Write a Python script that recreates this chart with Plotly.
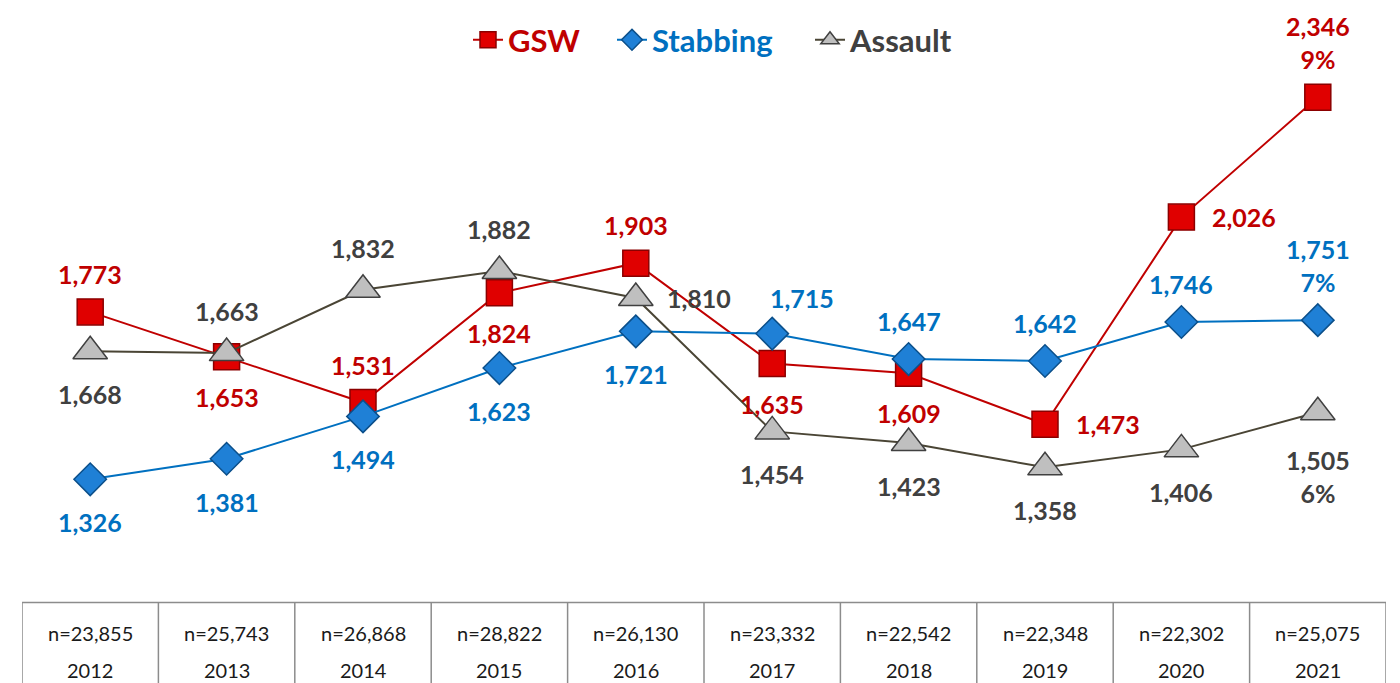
import plotly.graph_objects as go

years = [2012, 2013, 2014, 2015, 2016, 2017, 2018, 2019, 2020, 2021]
n_totals = ["n=23,855", "n=25,743", "n=26,868", "n=28,822", "n=26,130",
            "n=23,332", "n=22,542", "n=22,348", "n=22,302", "n=25,075"]
gsw = [1773, 1653, 1531, 1824, 1903, 1635, 1609, 1473, 2026, 2346]
stabbing = [1326, 1381, 1494, 1623, 1721, 1715, 1647, 1642, 1746, 1751]
assault = [1668, 1663, 1832, 1882, 1810, 1454, 1423, 1358, 1406, 1505]
share_2021 = {"GSW": "9%", "Stabbing": "7%", "Assault": "6%"}

# label placement codes: t=above, b=below, r=right, tr=above-right
gsw_pos = ["t", "b", "t", "b", "t", "b", "b", "r", "r", "t"]
stab_pos = ["b", "b", "b", "b", "b", "tr", "t", "t", "t", "t"]
assault_pos = ["b", "t", "t", "t", "r", "b", "b", "b", "b", "b"]

FONT = "Lato"
PLOT_L, PLOT_W = 22, 1364
series = [
    dict(name="GSW", y=gsw, pos=gsw_pos, line="#C00000", fill="#E00000", edge="#8B0000",
         text="#C00000", symbol="square", size=26, up=38, down=40, legend="legend", lx=468),
    dict(name="Stabbing", y=stabbing, pos=stab_pos, line="#0070C0", fill="#1F80D6", edge="#0B4F8A",
         text="#0070C0", symbol="diamond", size=25, up=38, down=43, legend="legend2", lx=612),
    dict(name="Assault", y=assault, pos=assault_pos, line="#4A4535", fill="#BFBFBF", edge="#404040",
         text="#404040", symbol="triangle-up", size=30, up=42, down=43, legend="legend3", lx=810),
]

fig = go.Figure()
annotations = []
legends = {}
for s in series:
    fig.add_trace(go.Scatter(
        x=years, y=s["y"], mode="lines+markers",
        name=f"<b><span style='color:{s['text']}'>{s['name']}</span></b>",
        line=dict(color=s["line"], width=2),
        marker=dict(symbol=s["symbol"], size=s["size"], color=s["fill"],
                    line=dict(color=s["edge"], width=1.5)),
        hoverinfo="skip",
        legend=s["legend"],
    ))
    legends[s["legend"]] = dict(
        orientation="h", x=(s["lx"] - PLOT_L) / PLOT_W, xanchor="left",
        y=1.0756, yanchor="middle", font=dict(family=FONT, size=31),
        itemwidth=30, bgcolor="rgba(0,0,0,0)")
    for i, (x, v, p) in enumerate(zip(years, s["y"], s["pos"])):
        txt = f"{v:,}"
        ann = dict(x=x, y=v, xref="x", yref="y", showarrow=False,
                   font=dict(family=FONT, size=25, color=s["text"], weight="bold"),
                   xanchor="center", yanchor="middle")
        last = i == len(years) - 1
        if last:
            txt = f"{txt}<br>{share_2021[s['name']]}"
        if p == "t":
            ann["yshift"] = s["up"] + (17 if last else 0)
        elif p == "b":
            ann["yshift"] = -(s["down"] + (21 if last else 0))
        elif p == "r":
            ann["xanchor"] = "left"
            ann["xshift"] = 29
        elif p == "tr":
            ann["xshift"] = 30
            ann["yshift"] = 36
        ann["text"] = f"<b>{txt}</b>"
        annotations.append(ann)

# bottom table
table_top = -0.079
table_bottom = -0.4
shapes = [dict(type="rect", xref="x", yref="paper", x0=years[0] - 0.5, x1=years[-1] + 0.5,
               y0=table_bottom, y1=table_top, line=dict(color="#8C8C8C", width=1.5))]
for x in years[:-1]:
    shapes.append(dict(type="line", xref="x", yref="paper", x0=x + 0.5, x1=x + 0.5,
                       y0=table_bottom, y1=table_top, line=dict(color="#8C8C8C", width=1.5)))
for x, n in zip(years, n_totals):
    annotations.append(dict(x=x, y=-0.141, xref="x", yref="paper", text=n, showarrow=False,
                            font=dict(family=FONT, size=20, color="#1a1a1a"), yanchor="middle"))
    annotations.append(dict(x=x, y=-0.217, xref="x", yref="paper", text=str(x), showarrow=False,
                            font=dict(family=FONT, size=20, color="#1a1a1a"), yanchor="middle"))

fig.update_layout(
    width=1400, height=683,
    margin=dict(l=PLOT_L, r=14, t=77, b=119),
    paper_bgcolor="white", plot_bgcolor="white",
    xaxis=dict(range=[years[0] - 0.5, years[-1] + 0.5], visible=False, fixedrange=True),
    yaxis=dict(range=[1100, 2400], visible=False, fixedrange=True),
    showlegend=True,
    annotations=annotations,
    shapes=shapes,
    font=dict(family=FONT),
    **legends,
)

fig.write_html("out.html", config={"displayModeBar": False},
               post_script="document.body.style.margin='0';document.body.style.overflow='hidden';")
